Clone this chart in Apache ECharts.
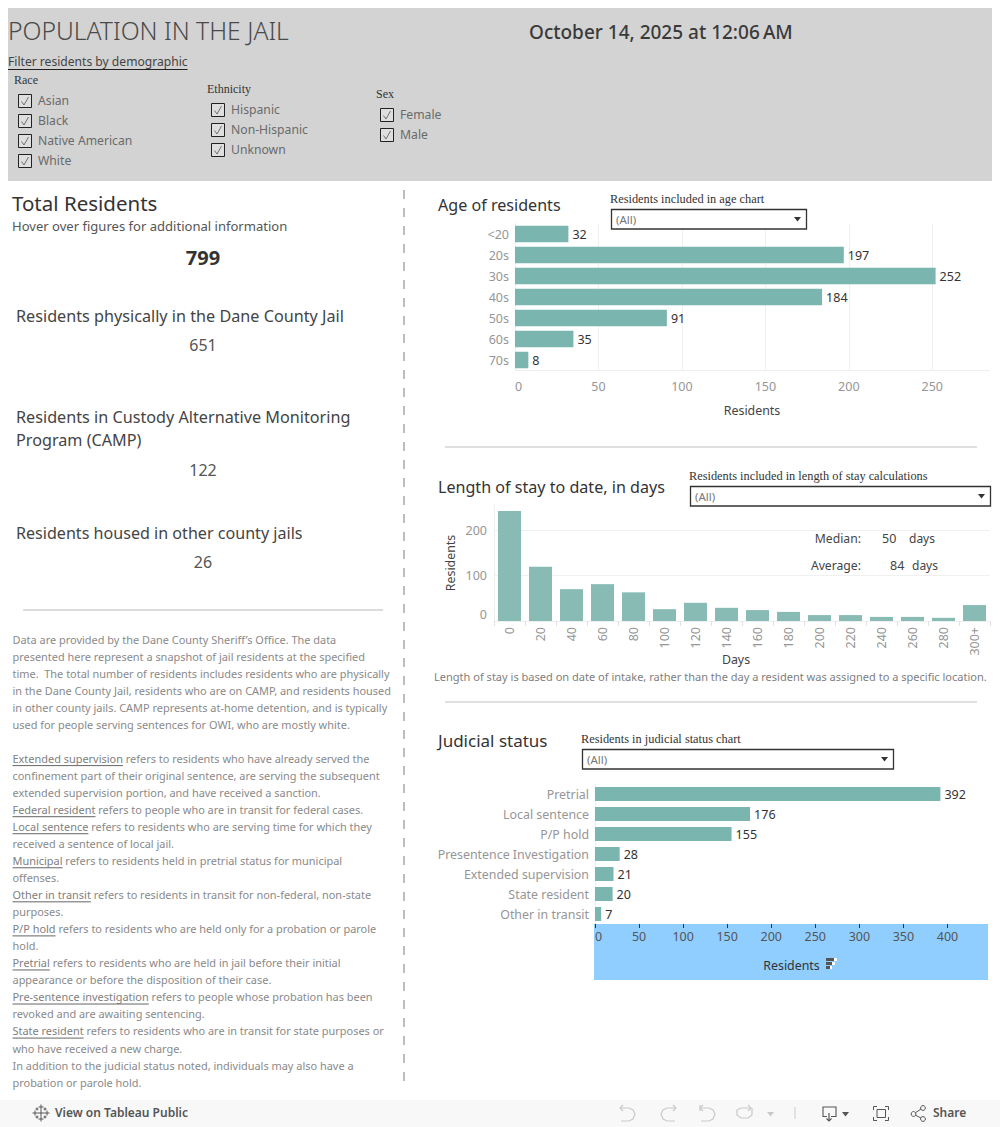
<!DOCTYPE html>
<html><head><meta charset="utf-8">
<style>html,body{margin:0;padding:0;background:#fff}#c{width:1000px;height:1127px}</style>
<script src="https://cdn.jsdelivr.net/npm/echarts@6/dist/echarts.min.js"></script>
</head><body><div id="c"></div>
<script>
const ageCategories=['<20','20s','30s','40s','50s','60s','70s'];
const ageValues=[32,197,252,184,91,35,8];
const ageTicks=[0,50,100,150,200,250];
const stayCategories=['0','20','40','60','80','100','120','140','160','180','200','220','240','260','280','300+'];
const stayValues=[242,119,70,81,63,26,40,29,24,20,13,13,9,9,7,35];
const stayTicks=[0,100,200];
const judicialCategories=['Pretrial','Local sentence','P/P hold','Presentence Investigation','Extended supervision','State resident','Other in transit'];
const judicialValues=[392,176,155,28,21,20,7];
const judicialTicks=[0,50,100,150,200,250,300,350,400];
const raceItems=['Asian','Black','Native American','White'];
const ethnicityItems=['Hispanic','Non-Hispanic','Unknown'];
const sexItems=['Female','Male'];
const totals={total:799,jail:651,camp:122,other:26};
const notes=[
[['Data are provided by the Dane County Sheriff\u2019s Office. The data']],
[['presented here represent a snapshot of jail residents at the specified']],
[['time.  The total number of residents includes residents who are physically']],
[['in the Dane County Jail, residents who are on CAMP, and residents housed']],
[['in other county jails. CAMP represents at-home detention, and is typically']],
[['used for people serving sentences for OWI, who are mostly white.']],
[],
[['Extended supervision',1],[' refers to residents who have already served the']],
[['confinement part of their original sentence, are serving the subsequent']],
[['extended supervision portion, and have received a sanction.']],
[['Federal resident',1],[' refers to people who are in transit for federal cases.']],
[['Local sentence',1],[' refers to residents who are serving time for which they']],
[['received a sentence of local jail.']],
[['Municipal',1],[' refers to residents held in pretrial status for municipal']],
[['offenses.']],
[['Other in transit',1],[' refers to residents in transit for non-federal, non-state']],
[['purposes.']],
[['P/P hold',1],[' refers to residents who are held only for a probation or parole']],
[['hold.']],
[['Pretrial',1],[' refers to residents who are held in jail before their initial']],
[['appearance or before the disposition of their case.']],
[['Pre-sentence investigation',1],[' refers to people whose probation has been']],
[['revoked and are awaiting sentencing.']],
[['State resident',1],[' refers to residents who are in transit for state purposes or']],
[['who have received a new charge.']],
[['In addition to the judicial status noted, individuals may also have a']],
[['probation or parole hold.']]
];

const SANS='"Noto Sans", sans-serif', SERIF='"Liberation Serif", serif';
const g=[];
const ctx=document.createElement('canvas').getContext('2d');
function width(s,font){ctx.font=font;return ctx.measureText(s).width;}
function t(text,x,y,size,color,o){o=o||{};
  const w=o.weight||400,f=o.family||SANS;
  g.push({type:'text',z:o.z||5,x:x,y:y-0.3,style:{text:text,x:0,y:0,fill:color,align:o.align||'left',verticalAlign:'middle',font:w+' '+size+'px '+f}});
}
function rect(x,y,w,h,fill,o){o=o||{};g.push({type:'rect',z:o.z===undefined?1:o.z,shape:{x:x,y:y,width:w,height:h},style:{fill:fill,stroke:o.stroke||null,lineWidth:o.lw||0}});}
function line(x1,y1,x2,y2,color,lw,dash){g.push({type:'line',z:2,shape:{x1:x1,y1:y1,x2:x2,y2:y2},style:{stroke:color,lineWidth:lw||1,lineDash:dash||null}});}
function poly(points,color,lw){g.push({type:'polyline',z:3,shape:{points:points},style:{stroke:color,lineWidth:lw||1,fill:null}});}
function under(text,x,y,size,color,ucolor){const ww=width(text,'400 '+size+'px '+SANS);t(text,x,y,size,color);line(x,y+size*0.62,x+ww,y+size*0.62,ucolor||color,1);return ww;}

// header
rect(8,8,984,173,'#d3d3d3',{z:0});
t('POPULATION IN THE JAIL',8,31,24.7,'#4a4a4a',{weight:300});
t('October 14, 2025 at 12:06\u202fAM',529,32,19,'#3a3a3a',{weight:500});
under('Filter residents by demographic',8,62,12.1,'#444','#222');
function checks(title,tx,ty,items,bx,by){
  t(title,tx,ty,12,'#333',{family:SERIF});
  items.forEach((s,i)=>{const y=by+i*20;
    rect(bx+.5,y-6.5,13,13,'#dfdfdf',{stroke:'#222',lw:1,z:2});
    poly([[bx+3.5,y+.5],[bx+6,y+4],[bx+10.5,y-4]],'#555',.8);
    t(s,bx+20,y,12.2,'#6a6a6a');
  });
}
checks('Race',14,80,raceItems,18,101);
checks('Ethnicity',207,89,ethnicityItems,211,110);
checks('Sex',376,94,sexItems,380,115);

// left panel
line(404,190,404,1082,'#bdbdbd',2,[9,9]);
t('Total Residents',12,203,20.5,'#333');
t('Hover over figures for additional information',12,226,13.05,'#555');
t(String(totals.total),203,258,20,'#333',{weight:700,align:'center'});
t('Residents physically in the Dane County Jail',16,316,16.2,'#444');
t(String(totals.jail),203,345,16,'#555',{align:'center'});
t('Residents in Custody Alternative Monitoring',16,417,16.2,'#444');
t('Program (CAMP)',16,440,16.2,'#444');
t(String(totals.camp),203,470,16,'#555',{align:'center'});
t('Residents housed in other county jails',16,533,16.1,'#444');
t(String(totals.other),203,562,16,'#555',{align:'center'});
line(23,610,383,610,'#dcdcdc',2);
const noteSize=10.95;
notes.forEach((parts,i)=>{const y=639.6+i*17.03;let x=12.5;
  parts.forEach(p=>{const w=p[1]?under(p[0],x,y,noteSize,'#808080','#666'):(t(p[0],x,y,noteSize,'#8a8a8a'),width(p[0],'400 '+noteSize+'px '+SANS));x+=w;});
});

// right titles, dropdowns
function dropdown(label,lx,ly,x,y,w){
  t(label,lx,ly,12.35,'#333',{family:SERIF});
  rect(x+.5,y+.5,w,19.5,'#fff',{stroke:'#333',lw:1.3,z:2});
  t('(All)',x+5,y+10.5,11.5,'#777');
  g.push({type:'polygon',z:3,shape:{points:[[x+w-12,y+8],[x+w-5,y+8],[x+w-8.5,y+12.5]]},style:{fill:'#333'}});
}
t('Age of residents',438,205,16.1,'#333');
dropdown('Residents included in age chart',610,199,611,209,195);
line(445,447,977,447,'#e0e0e0',2);
t('Length of stay to date, in days',438,487,16.1,'#333');
dropdown('Residents included in length of stay calculations',689,476,690,486,300);
t('Median:',861,539,12.2,'#444',{align:'right'});
t('50',882,539,12.5,'#444');
t('days',909,539,12,'#444');
t('Average:',861,566,12.2,'#444',{align:'right'});
t('84',890,566,12.5,'#444');
t('days',912,566,12,'#444');
t('Length of stay is based on date of intake, rather than the day a resident was assigned to a specific location.',434,677,11.04,'#808080');
line(445,702,977,702,'#e0e0e0',2);
t('Judicial status',438,741,17,'#333');
dropdown('Residents in judicial status chart',581,739,582,749,311);
rect(594,924,394,56,'#8fceff',{z:0});
// sort icon
rect(826,958,11,3,'#fff',{z:3});rect(826,958,8,3,'#555',{z:3});
rect(826,962,9,3,'#fff',{z:3});rect(826,962,6,3,'#555',{z:3});
rect(826,966,6,3,'#fff',{z:3});rect(826,966,4,3,'#555',{z:3});

// footer
rect(0,1100,1000,27,'#f8f8f8',{z:0});
[[41,1113],[35,1113],[47,1113],[41,1107],[41,1119],[37,1109],[45,1109],[37,1117],[45,1117]].forEach((p,i)=>{const r=i===0?3.5:(i<5?2.5:1.5);
  line(p[0]-r,p[1],p[0]+r,p[1],'#555',1);line(p[0],p[1]-r,p[0],p[1]+r,'#555',1);});
t('View on Tableau Public',55,1113,12,'#555',{weight:600});
const ic='#c9c9c9',dk='#555';
function curve(x0,dir){
  poly([[x0,1108],[x0+dir*9,1108],[x0+dir*13,1110],[x0+dir*15,1114],[x0+dir*13,1119],[x0+dir*9,1121],[x0+dir*1,1121]],ic,1.2);
  poly([[x0+dir*3,1105],[x0,1108],[x0+dir*3,1111]],ic,1.2);
}
curve(620,1);curve(676,-1);curve(700,1);line(700,1105,700,1111,ic,1.2);
poly([[751,1108],[741,1108],[737,1110],[737,1115],[741,1118],[748,1118],[752,1115],[752,1108]],ic,1.2);poly([[748,1105],[751,1108],[748,1111]],ic,1.2);
g.push({type:'polygon',z:3,shape:{points:[[767,1112],[774,1112],[770.5,1116.5]]},style:{fill:ic}});
line(795,1107,795,1119,'#ccc',1);
poly([[827,1116.5],[823,1116.5],[823,1107],[836,1107],[836,1116.5],[831,1116.5]],dk,1.1);line(829,1113,829,1121,dk,1.2);poly([[826.5,1118.5],[829,1121],[831.5,1118.5]],dk,1.1);
g.push({type:'polygon',z:3,shape:{points:[[842,1112],[849,1112],[845.5,1116.5]]},style:{fill:dk}});
[[[873.5,1110],[873.5,1106.5],[877,1106.5]],[[885,1106.5],[888.5,1106.5],[888.5,1110]],[[873.5,1117],[873.5,1120.5],[877,1120.5]],[[885,1120.5],[888.5,1120.5],[888.5,1117]]].forEach(p=>poly(p,dk,1));
rect(877,1109.5,8.5,8,'none',{stroke:dk,lw:1,z:3});
line(915,1113,921,1109,dk,1);line(915,1115,921,1118,dk,1);
[[913.5,1114],[923,1108],[923,1119]].forEach(p=>{g.push({type:'circle',z:3,shape:{cx:p[0],cy:p[1],r:2.4},style:{fill:'#f8f8f8',stroke:dk,lineWidth:1}});});
t('Share',933,1113,12,'#555',{weight:600});

const axisGray='#969696', faint='#eeeeee';
const lab=()=>({show:true,position:'right',distance:4,color:'#333',fontSize:12.5,fontFamily:SANS});

const option={
  animation:false,
  backgroundColor:'#fff',
  textStyle:{fontFamily:SANS},
  grid:[
    {left:515,top:223.5,width:474,height:147},
    {left:494,top:505,width:496,height:116},
    {left:595,top:784,width:393,height:140}
  ],
  xAxis:[
    {gridIndex:0,type:'value',min:0,max:284,name:'Residents',nameLocation:'middle',nameGap:34,
     nameTextStyle:{color:'#444',fontSize:12.4},
     axisLine:{show:true,lineStyle:{color:faint}},axisTick:{show:false,customValues:ageTicks},
     splitLine:{show:true,lineStyle:{color:'#f0f0f0'}},
     axisLabel:{customValues:ageTicks,color:axisGray,fontSize:12.5,margin:9,alignMinLabel:'left'}},
    {gridIndex:1,type:'category',data:stayCategories,name:'Days',nameLocation:'middle',nameGap:32,nameMoveOverlap:false,
     nameTextStyle:{color:'#444',fontSize:12.4,padding:[0,12,0,0]},
     axisLine:{show:true,lineStyle:{color:faint}},axisTick:{show:true,length:5,lineStyle:{color:'#e2e2e2'}},
     axisLabel:{rotate:90,color:axisGray,fontSize:12.5,margin:6,interval:0}},
    {gridIndex:2,type:'value',min:0,max:446,name:'Residents',nameLocation:'middle',nameGap:35,
     nameTextStyle:{color:'#333',fontSize:12.4},
     axisLine:{show:false},axisTick:{show:true,length:4,customValues:judicialTicks,lineStyle:{color:'#333'}},
     splitLine:{show:false},
     axisLabel:{customValues:judicialTicks,color:'#555',fontSize:12.5,margin:6,alignMinLabel:'left'}}
  ],
  yAxis:[
    {gridIndex:0,type:'category',inverse:true,data:ageCategories,
     axisLine:{show:true,lineStyle:{color:faint}},axisTick:{show:false},
     axisLabel:{color:axisGray,fontSize:12.5,margin:6}},
    {gridIndex:1,type:'value',min:0,max:255,name:'Residents',nameLocation:'middle',nameGap:38,
     nameTextStyle:{color:'#444',fontSize:12.4},
     axisLine:{show:true,lineStyle:{color:faint}},axisTick:{show:false,customValues:stayTicks},
     splitLine:{show:true,lineStyle:{color:'#f0f0f0'}},
     axisLabel:{customValues:stayTicks,color:axisGray,fontSize:12.5,margin:7,verticalAlignMinLabel:'bottom'}},
    {gridIndex:2,type:'category',inverse:true,data:judicialCategories,
     axisLine:{show:true,lineStyle:{color:faint}},axisTick:{show:false},
     axisLabel:{color:axisGray,fontSize:12.4,margin:6}}
  ],
  series:[
    {type:'bar',xAxisIndex:0,yAxisIndex:0,data:ageValues,barWidth:16.5,itemStyle:{color:'#7ab6af'},label:lab(),silent:true},
    {type:'bar',xAxisIndex:1,yAxisIndex:1,data:stayValues,barWidth:23,itemStyle:{color:'#87bbb4'},silent:true},
    {type:'bar',xAxisIndex:2,yAxisIndex:2,data:judicialValues,barWidth:14,itemStyle:{color:'#7ab6af'},label:lab(),silent:true}
  ],
  graphic:{elements:g}
};
const chart=echarts.init(document.getElementById('c'),null,{renderer:'svg',width:1000,height:1127});
chart.setOption(option);
</script></body></html>
